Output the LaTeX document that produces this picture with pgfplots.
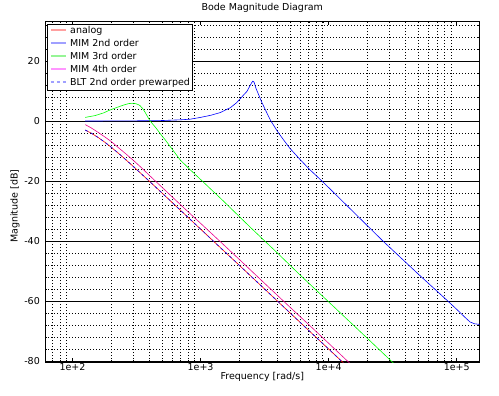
\documentclass[border=0pt]{standalone}
\usepackage{fontspec}
\setmainfont{DejaVu Sans}
\usepackage{pgfplots}
\pgfplotsset{compat=1.18}
\newcommand\fs{\fontsize{9.5bp}{11bp}\selectfont}
\definecolor{lred}{RGB}{255,160,160}
\definecolor{lblue}{RGB}{160,160,255}
\definecolor{lgreen}{RGB}{150,245,150}
\definecolor{lmag}{RGB}{255,150,255}
\begin{document}
\begin{tikzpicture}
\path[use as bounding box] (-45bp,-33.8bp) rectangle (454bp,362.2bp);
\begin{axis}[
  scale only axis, width=434.6bp, height=341.1bp,
  xmode=log, xmin=61, xmax=150796, ymin=-80.4, ymax=33.3,
  /pgf/number format/assume math mode=true,
  font=\fs,
  xtick={100,1000,10000,100000},
  xticklabels={1e+2,1e+3,1e+4,1e+5},
  minor xtick={70,80,90,200,300,400,500,600,700,800,900,2000,3000,4000,5000,6000,7000,8000,9000,20000,30000,40000,50000,60000,70000,80000,90000},
  ytick={-80,-60,-40,-20,0,20},
  yticklabels={-80,-60,-40,-20,0,20},
  minor ytick={-80,-76,...,32},
  grid=none, xminorgrids=true, ymajorgrids=true, yminorgrids=true,
  major grid style={black, line width=0.8bp},
  minor grid style={black, line width=0.7bp, dash pattern=on 0.8bp off 2.2bp},
  axis line style={black, line width=0.8bp},
  tick align=inside, xtick pos=both, ytick pos=both,
  major tick length=4bp, minor tick length=2bp,
  tick style={black, line width=0.6bp},
  xticklabel style={inner sep=0pt, anchor=base, yshift=-8.2bp, font=\fs},
  yticklabel style={inner sep=0pt, anchor=east, xshift=-5bp, font=\fs},
  title={Bode Magnitude Diagram},
  title style={at={(axis description cs:0.5,1.0223)}, anchor=center, inner sep=0pt, font=\fs},
  xlabel={Frequency [rad/s]},
  xlabel style={at={(axis description cs:0.5,-0.044)}, anchor=center, inner sep=0pt, font=\fs},
  ylabel={Magnitude [dB]},
  ylabel style={at={(axis description cs:-0.069,0.457)}, anchor=center, inner sep=0pt, font=\fs},
  no marks,
  legend cell align=left,
  legend image code/.code={\path[#1] (0bp,3.5bp) -- (15bp,3.5bp);},
  legend style={at={(axis description cs:0,1)}, anchor=north west, xshift=2bp, yshift=-3bp,
    draw=black, line width=0.8bp, fill=white, inner xsep=2.5bp, inner ysep=2bp,
    row sep=3.3bp, column sep=3.3bp, font=\fs,
    nodes={inner sep=0pt, text height=7.5bp, text depth=2.2bp, anchor=base west}},
]
\addlegendimage{draw=lred, line width=2bp}
\addlegendentry{analog}
\addlegendimage{draw=lblue, line width=2bp}
\addlegendentry{MIM 2nd order}
\addlegendimage{draw=lgreen, line width=2bp}
\addlegendentry{MIM 3rd order}
\addlegendimage{draw=lmag, line width=2bp}
\addlegendentry{MIM 4th order}
\addlegendimage{draw=lblue, line width=2bp, dash pattern=on 3bp off 3bp}
\addlegendentry{BLT 2nd order prewarped}
\addplot[red, line width=0.6bp, forget plot] coordinates {
(125.66,-3.01) (140,-4.05) (160,-5.60) (180,-7.17) (200,-8.70) (230,-10.87) (260,-12.86)
(300,-15.25) (350,-17.87) (400,-20.16) (500,-24.01) (600,-27.17) (800,-32.16) (1000,-36.03)
(1500,-43.08) (2000,-48.04) (3000,-55.10) (5000,-63.99) (7000,-69.84) (10000,-76.02) (14000,-81.88)};
\addplot[blue, line width=0.6bp, forget plot] coordinates {
(125.66,0.0) (200,0.02) (300,0.05) (500,0.15) (700,0.4) (830,0.6) (1000,1.2) (1200,1.9)
(1422,2.8) (1702,4.4) (1900,6.0) (2037,7.4) (2200,9.0) (2296,9.8) (2400,11.3) (2500,12.7)
(2560,13.3) (2620,12.9) (2700,11.0) (2850,8.6) (3000,6.3) (3300,2.6) (3540,0.0) (4000,-3.6)
(4447,-6.3) (5000,-9.2) (5970,-12.8) (7000,-15.9) (8850,-20.0) (10000,-22.2) (15000,-29.6)
(26800,-40.2) (50000,-51.0) (86100,-60.2) (100000,-62.8) (115000,-65.3) (127000,-67.0)
(138000,-67.6) (150796,-67.8)};
\addplot[green, line width=0.6bp, forget plot] coordinates {
(125.66,1.2) (150,1.8) (175,2.7) (197,3.7) (225,4.6) (250,5.3) (275,5.8) (291,5.9) (310,5.8)
(325,5.5) (337,5.1) (355,4.0) (370,2.8) (385,1.5) (404,0.0) (450,-2.4) (500,-5.0) (530,-6.3)
(600,-9.4) (694,-13.0) (800,-15.6) (1023,-19.9) (1500,-26.6) (2440,-35.4) (4000,-44.1)
(5970,-51.3) (10000,-60.3) (20460,-72.8) (31300,-80.3) (35000,-82.2)};
\addplot[magenta, line width=0.6bp, forget plot] coordinates {
(125.66,-1.2) (140,-2.3) (160,-3.9) (180,-5.4) (200,-6.8) (230,-9.0) (260,-10.9) (280,-12.1)
(300,-13.2) (350,-15.8) (400,-18.2) (500,-22.1) (600,-25.3) (800,-30.3) (1000,-34.1)
(1500,-41.1) (2000,-46.1) (3000,-53.2) (5000,-62.1) (7000,-67.9) (10000,-74.1) (14000,-80.0)
(16000,-82.3)};
\addplot[blue, line width=0.6bp, dash pattern=on 3bp off 3bp, forget plot] coordinates {
(125.66,-3.01) (140,-4.05) (160,-5.60) (180,-7.17) (200,-8.70) (230,-10.87) (260,-12.86)
(300,-15.25) (350,-17.87) (400,-20.16) (500,-24.01) (600,-27.17) (800,-32.16) (1000,-36.03)
(1500,-43.08) (2000,-48.04) (3000,-55.10) (5000,-63.99) (7000,-69.84) (10000,-76.02) (14000,-81.88)};
\end{axis}
\end{tikzpicture}
\end{document}
